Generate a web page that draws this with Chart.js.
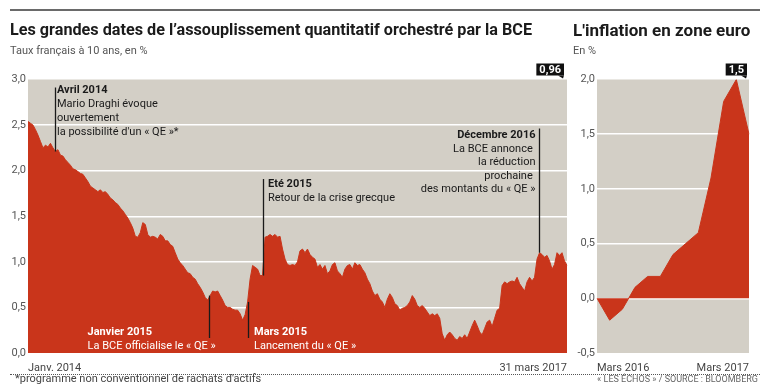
<!DOCTYPE html>
<html lang="fr">
<head>
<meta charset="utf-8">
<title>Les grandes dates de l'assouplissement quantitatif</title>
<script src="https://cdn.jsdelivr.net/npm/chart.js@4.4.1/dist/chart.umd.min.js"></script>
<style>
  html, body { margin: 0; padding: 0; background: #fff; }
  #page { position: relative; width: 768px; height: 391px; overflow: hidden; font-family: Roboto, "Noto Sans", sans-serif; color: #222; }
  canvas { position: absolute; left: 0; top: 0; }
  .rule { position: absolute; left: 10px; top: 9px; width: 750px; height: 2px; background: #6a6a6a; }
  .title { position: absolute; top: 22px; font-weight: 700; font-size: 16.2px; line-height: 1; white-space: nowrap; color: #1b1b1b; z-index: 2; }
  .sub { position: absolute; top: 45px; font-size: 11px; line-height: 1; white-space: nowrap; color: #555; z-index: 2; }
  .dots { position: absolute; left: 10px; top: 374px; width: 750px; border-top: 1px dotted #555; }
  .foot { position: absolute; left: 15px; top: 373px; font-size: 11px; line-height: 1; color: #444; white-space: nowrap; }
  .source { position: absolute; right: 10px; top: 375px; font-size: 9px; line-height: 1; color: #666; white-space: nowrap; }
</style>
</head>
<body>
<div id="page">
  <div class="rule"></div>
  <div class="title" style="left:10px">Les grandes dates de l’assouplissement quantitatif orchestré par la BCE</div>
  <div class="sub" style="left:10px">Taux français à 10 ans, en %</div>
  <div class="title" style="left:573px; font-size:17px; top:21.5px">L'inflation en zone euro</div>
  <div class="sub" style="left:573px">En %</div>
  <canvas id="rateChart" width="768" height="391"></canvas>
  <canvas id="inflationChart" width="768" height="391"></canvas>
  <div class="dots"></div>
  <div class="foot">*programme non conventionnel de rachats d'actifs</div>
  <div class="source">« LES ÉCHOS » / SOURCE : BLOOMBERG</div>
</div>
<script>
// Taux français à 10 ans, relevés réguliers (~5,5 jours) de janv. 2014 au 31 mars 2017
const oatStart = '2014-01-02';
const oatEnd = '2017-03-31';
const oat10y = [
  2.54, 2.52, 2.50, 2.45, 2.39, 2.32, 2.25, 2.28, 2.26, 2.30,
  2.25, 2.21, 2.23, 2.17, 2.16, 2.12, 2.09, 2.06, 2.02, 2.01,
  1.99, 1.97, 1.96, 1.92, 1.88, 1.83, 1.81, 1.79, 1.77, 1.79,
  1.76, 1.77, 1.74, 1.70, 1.68, 1.65, 1.63, 1.59, 1.56, 1.52,
  1.48, 1.43, 1.37, 1.28, 1.27, 1.32, 1.43, 1.41, 1.30, 1.27,
  1.28, 1.27, 1.25, 1.30, 1.28, 1.23, 1.23, 1.19, 1.17, 1.10,
  1.03, 0.99, 0.96, 0.92, 0.88, 0.87, 0.83, 0.81, 0.76, 0.72,
  0.67, 0.61, 0.58, 0.63, 0.68, 0.67, 0.68, 0.63, 0.58, 0.52,
  0.50, 0.50, 0.48, 0.47, 0.47, 0.43, 0.36, 0.42, 0.56, 0.81,
  0.96, 0.94, 0.92, 0.85, 0.85, 1.27, 1.28, 1.30, 1.28, 1.30,
  1.27, 1.28, 1.14, 1.03, 0.97, 0.96, 0.97, 0.96, 1.00,
  1.12, 1.14, 1.10, 1.14, 1.08, 1.05, 1.03, 0.94, 0.97, 0.92,
  0.96, 0.87, 0.90, 0.97, 0.99, 0.90, 0.87, 0.83, 0.92, 0.96,
  0.97, 0.92, 0.99, 0.96, 0.97, 0.92, 0.88, 0.81, 0.76, 0.68,
  0.63, 0.65, 0.59, 0.56, 0.50, 0.59, 0.65, 0.61, 0.54, 0.52,
  0.47, 0.49, 0.50, 0.52, 0.56, 0.63, 0.59, 0.52, 0.50, 0.52,
  0.49, 0.45, 0.41, 0.43, 0.41, 0.43, 0.38, 0.21, 0.14, 0.20,
  0.23, 0.20, 0.16, 0.14, 0.18, 0.16, 0.20, 0.16, 0.23, 0.30,
  0.36, 0.30, 0.23, 0.20, 0.27, 0.34, 0.36, 0.29, 0.38, 0.47,
  0.49, 0.74, 0.78, 0.76, 0.78, 0.79, 0.78, 0.83, 0.76, 0.72,
  0.68, 0.78, 0.83, 0.79, 0.83, 1.03, 1.10, 1.08, 1.05, 1.07,
  1.01, 0.92, 0.97, 1.10, 1.07, 1.10, 1.01, 0.96
];
const oatTickLabels = ['Janv. 2014', '31 mars 2017'];

// Inflation en zone euro, sur un an, en %
const inflationMonths = ['Mars 2016', 'Avr. 2016', 'Mai 2016', 'Juin 2016', 'Juil. 2016', 'Août 2016',
  'Sept. 2016', 'Oct. 2016', 'Nov. 2016', 'Déc. 2016', 'Janv. 2017', 'Févr. 2017', 'Mars 2017'];
const inflation = [0.0, -0.2, -0.1, 0.1, 0.2, 0.2, 0.4, 0.5, 0.6, 1.1, 1.8, 2.0, 1.5];
const inflationTickLabels = ['Mars 2016', 'Mars 2017'];

// annotations : "at" = position dans la série des taux
const qeEvents = [
  { at: 10.8, title: 'Avril 2014', lines: ['Mario Draghi évoque', 'ouvertement', "la possibilité d'un « QE »*"] },
  { at: 72.5, title: 'Janvier 2015', lines: ['La BCE officialise le « QE »'] },
  { at: 88.1, title: 'Mars 2015', lines: ['Lancement du « QE »'] },
  { at: 94.1, title: 'Eté 2015', lines: ['Retour de la crise grecque'] },
  { at: 204.8, title: 'Décembre 2016', lines: ['La BCE annonce ', 'la réduction', 'prochaine ', 'des montants du « QE »'] }
];

const RED = '#c9351b';
const BG = '#d3cfc6';
const FONT = 'Roboto';

const oatDates = oat10y.map((_, i) => {
  const t0 = Date.parse(oatStart), t1 = Date.parse(oatEnd);
  return new Date(t0 + (t1 - t0) * i / (oat10y.length - 1)).toISOString().slice(0, 10);
});

const comma = v => String(v).replace('.', ',');

// fond gris sous la zone de tracé
const plotBg = {
  id: 'plotBg',
  beforeDraw(chart) {
    const a = chart.chartArea, ctx = chart.ctx;
    ctx.save();
    ctx.fillStyle = BG;
    ctx.fillRect(a.left, a.top, a.right - a.left, a.bottom - a.top);
    ctx.restore();
  }
};

// étiquette noire avec la dernière valeur
const lastBadge = {
  id: 'lastBadge',
  afterDraw(chart, args, opts) {
    const ctx = chart.ctx;
    const meta = chart.getDatasetMeta(0);
    const pt = meta.data[meta.data.length - 1];
    const values = chart.data.datasets[0].data;
    const txt = comma(values[values.length - 1]);
    ctx.save();
    ctx.font = 'bold 11px ' + FONT;
    const w = ctx.measureText(txt).width + 6;
    const right = pt.x - opts.dx, top = chart.chartArea.top - 16, h = 12;
    ctx.fillStyle = '#111';
    ctx.fillRect(right - w, top, w, h);
    ctx.beginPath();
    ctx.moveTo(right - 6, top + h);
    ctx.lineTo(right, top + h);
    ctx.lineTo(right - 1, top + h + 3);
    ctx.closePath();
    ctx.fill();
    ctx.fillStyle = '#fff';
    ctx.textAlign = 'center';
    ctx.textBaseline = 'middle';
    ctx.fillText(txt, right - w / 2, top + h / 2 + 0.5);
    ctx.restore();
  }
};

// repères et textes des événements
const eventNotes = {
  id: 'eventNotes',
  afterDraw(chart, args, opts) {
    const ctx = chart.ctx, xs = chart.scales.x, ys = chart.scales.y;
    const values = chart.data.datasets[0].data;
    const top = chart.chartArea.top;
    qeEvents.forEach((ev, k) => {
      const lay = opts.layout[k];
      const x = Math.round(xs.getPixelForValue(ev.at)) + 0.5;
      const yVal = ys.getPixelForValue(values[Math.round(ev.at)]);
      let y0, y1;
      if (lay.below) { y0 = yVal; y1 = lay.lineEnd; } else { y0 = top + lay.lineTop; y1 = yVal; }
      ctx.save();
      ctx.strokeStyle = '#1a1a1a';
      ctx.lineWidth = 1.3;
      ctx.beginPath();
      ctx.moveTo(x, y0);
      ctx.lineTo(x, y1);
      ctx.stroke();
      ctx.textAlign = lay.align;
      ctx.textBaseline = 'alphabetic';
      ctx.fillStyle = lay.color;
      const tx = x + lay.dx;
      let by = lay.below ? lay.baseline : top + lay.baseline;
      ctx.font = 'bold 11px ' + FONT;
      ctx.fillText(ev.title, tx, by);
      ctx.font = '11px ' + FONT;
      ev.lines.forEach(line => {
        by += lay.step;
        ctx.fillText(line, tx, by);
      });
      ctx.restore();
    });
  }
};

const tickFont = { family: FONT, size: 11 };
const yTicks = v => v.toFixed(1).replace('.', ',');

function whiteGrid(min, max) {
  return {
    color: c => (c.tick.value === min || c.tick.value === max) ? 'rgba(0,0,0,0)' : '#ffffff',
    lineWidth: 1.5,
    drawTicks: false
  };
}

function buildChart(id, labels, data, ticks, pad, yMin, yMax, yWidth, plugins, pluginOpts) {
  return new Chart(document.getElementById(id), {
    type: 'line',
    data: {
      labels: labels,
      datasets: [{
        data: data,
        borderColor: RED,
        borderWidth: 1,
        backgroundColor: RED,
        fill: 'origin',
        pointRadius: 0,
        tension: 0
      }]
    },
    options: {
      responsive: false,
      animation: false,
      events: [],
      layout: { padding: pad },
      plugins: Object.assign({ legend: { display: false }, tooltip: { enabled: false } }, pluginOpts),
      scales: {
        x: {
          grid: { display: false },
          border: { display: false },
          afterFit: s => { s.height = 20; },
          ticks: {
            autoSkip: false,
            maxRotation: 0,
            align: 'inner',
            padding: 1,
            color: '#444',
            font: tickFont,
            callback: (v, i) => i === 0 ? ticks[0] : (i === labels.length - 1 ? ticks[1] : '')
          }
        },
        y: {
          min: yMin,
          max: yMax,
          z: 1,
          border: { display: false },
          grid: whiteGrid(yMin, yMax),
          afterFit: s => { s.width = yWidth; },
          ticks: { stepSize: 0.5, padding: 2, color: '#555', font: tickFont, callback: yTicks }
        }
      }
    },
    plugins: plugins
  });
}

buildChart('rateChart', oatDates, oat10y, oatTickLabels,
  { left: 0, right: 201, top: 79.5, bottom: 18 }, 0, 3, 28,
  [plotBg, eventNotes, lastBadge],
  {
    lastBadge: { dx: 3 },
    eventNotes: {
      layout: [
        { align: 'left', dx: 1.5, lineTop: 8, baseline: 13.5, step: 14, color: '#1a1a1a' },
        { align: 'left', dx: -122, below: true, lineEnd: 338, baseline: 335, step: 14, color: '#ffffff' },
        { align: 'left', dx: 5.5, below: true, lineEnd: 338, baseline: 335, step: 14, color: '#ffffff' },
        { align: 'left', dx: 4.5, lineTop: 99.5, baseline: 107.5, step: 13.5, color: '#1a1a1a' },
        { align: 'right', dx: -4, lineTop: 49, baseline: 58.5, step: 13.5, color: '#1a1a1a' }
      ]
    }
  });

buildChart('inflationChart', inflationMonths, inflation, inflationTickLabels,
  { left: 572, right: 19, top: 79.5, bottom: 18 }, -0.5, 2, 25,
  [plotBg, lastBadge],
  { lastBadge: { dx: 2 } });
</script>
</body>
</html>
